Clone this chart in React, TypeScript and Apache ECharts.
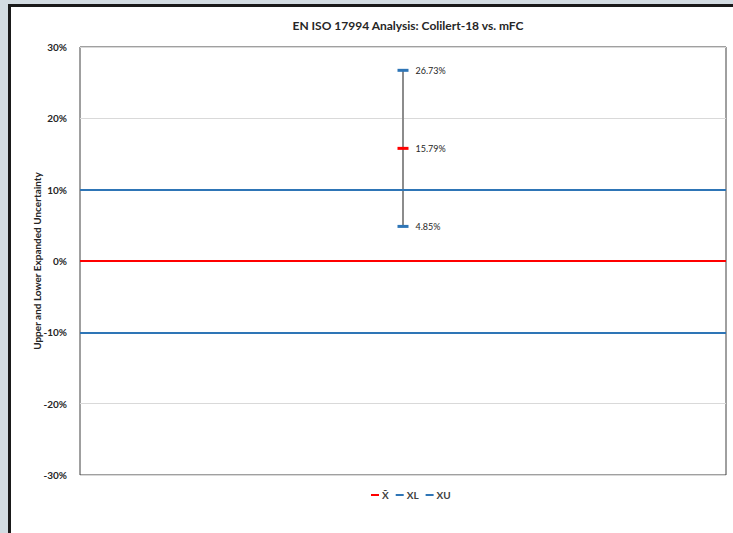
import React, { useEffect, useRef } from "react";
import * as echarts from "echarts";

const categories = ["Colilert-18 vs. mFC"];
const medianValues = [15.79];
const lowerValues = [4.85];
const upperValues = [26.73];
const referenceLines = [
  { name: "zero", value: 0, color: "#ff0000" },
  { name: "lower limit", value: 10, color: "#2e75b6" },
  { name: "upper limit", value: -10, color: "#2e75b6" },
];
const yTicks = { min: -30, max: 30, interval: 10 };

const FONT = "Lato, 'Open Sans', sans-serif";

export default function App() {
  const ref = useRef<HTMLDivElement>(null);

  useEffect(() => {
    if (!ref.current) return;
    const chart = echarts.init(ref.current, undefined, { renderer: "svg" });
    const markerLabel = {
      show: true,
      position: "right" as const,
      distance: 7,
      fontSize: 9,
      fontFamily: FONT,
      color: "#262626",
      opacity: 1,
      formatter: (p: any) => `${Number(p.value[1]).toFixed(2)}%`,
    };
    const mk = (vals: number[]) => vals.map((v, i) => [categories[i], v]);
    chart.setOption({
      animation: false,
      backgroundColor: "transparent",
      title: {
        text: "EN ISO 17994 Analysis: Colilert-18 vs. mFC",
        left: 403,
        textAlign: "center",
        top: 14,
        textStyle: { fontSize: 12, fontWeight: "bold", fontFamily: FONT, color: "#262626" },
      },
      legend: {
        top: 485,
        left: 366,
        itemWidth: 8,
        itemHeight: 2,
        itemGap: 7,
        icon: "rect",
        data: ["X̃", "XL", "XU"],
        textStyle: { fontSize: 10, fontWeight: "bold", fontFamily: FONT, color: "#404040", padding: [0, 0, 0, -2] },
      },
      grid: { left: 80, top: 47, right: 7, bottom: 58, show: true, borderColor: "#404040", borderWidth: 1, backgroundColor: "transparent" },
      xAxis: {
        type: "category",
        data: categories,
        boundaryGap: true,
        axisLabel: { show: false },
        axisTick: { show: false },
        axisLine: { show: false },
      },
      yAxis: {
        type: "value",
        min: yTicks.min,
        max: yTicks.max,
        interval: yTicks.interval,
        name: "Upper and Lower Expanded Uncertainty",
        nameLocation: "middle",
        nameRotate: 90,
        nameGap: 38,
        nameMoveOverlap: false,
        nameTextStyle: { fontSize: 10, fontWeight: "bold", fontFamily: FONT, color: "#262626" },
        axisLabel: { formatter: "{value}%", fontSize: 10, fontWeight: "bold", fontFamily: FONT, color: "#262626", margin: 13 },
        axisLine: { show: false },
        axisTick: { show: false },
        splitLine: { lineStyle: { color: "#d9d9d9", width: 1 } },
      },
      series: [
        {
          type: "custom",
          name: "range",
          silent: true,
          data: categories.map((c, i) => [i, lowerValues[i], upperValues[i]]),
          renderItem: (_params: any, api: any) => {
            const p1 = api.coord([api.value(0), api.value(1)]);
            const p2 = api.coord([api.value(0), api.value(2)]);
            return {
              type: "line",
              shape: { x1: p1[0], y1: p1[1], x2: p2[0], y2: p2[1] },
              style: { stroke: "#8c8c8c", lineWidth: 2 },
            };
          },
          markLine: {
            silent: true,
            symbol: "none",
            label: { show: false },
            data: referenceLines.map((r) => ({ yAxis: r.value, lineStyle: { color: r.color, width: 2, type: "solid" } })),
          },
          z: 2,
        },
        {
          type: "scatter",
          name: "X̃",
          data: mk(medianValues),
          symbol: "rect",
          symbolSize: [11, 3],
          itemStyle: { color: "#ff0000", opacity: 1 },
          label: markerLabel,
          z: 3,
        },
        {
          type: "scatter",
          name: "XL",
          data: mk(lowerValues),
          symbol: "rect",
          symbolSize: [11, 3],
          itemStyle: { color: "#2e75b6", opacity: 1 },
          label: markerLabel,
          z: 3,
        },
        {
          type: "scatter",
          name: "XU",
          data: mk(upperValues),
          symbol: "rect",
          symbolSize: [11, 3],
          itemStyle: { color: "#2e75b6", opacity: 1 },
          label: markerLabel,
          z: 3,
        },
      ],
    });
    return () => chart.dispose();
  }, []);

  return (
    <div style={{ position: "fixed", left: 0, top: 0, width: 733, height: 533, background: "#d3dce2", overflow: "hidden" }}>
      <div
        style={{
          position: "absolute",
          left: 8,
          top: 4,
          width: 733,
          height: 533,
          background: "#ffffff",
          borderLeft: "3px solid #1a1a1a",
          borderTop: "3px solid #1a1a1a",
        }}
      />
      <div ref={ref} style={{ position: "absolute", left: 0, top: 0, width: 733, height: 533 }} />
    </div>
  );
}
